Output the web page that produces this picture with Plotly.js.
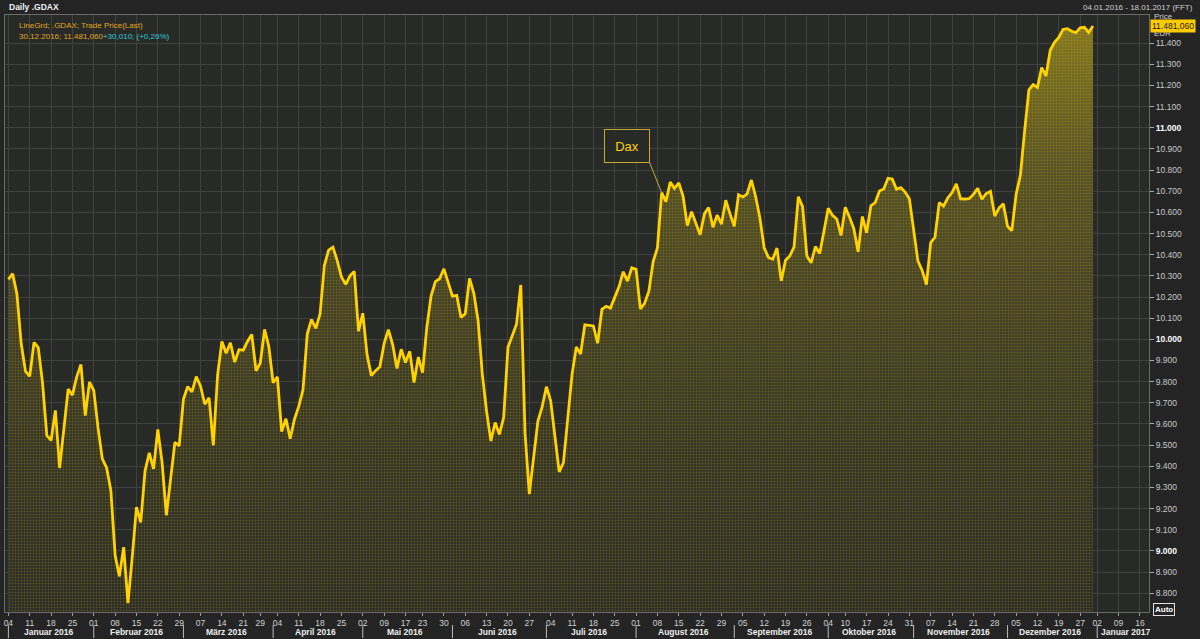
<!DOCTYPE html>
<html><head><meta charset="utf-8">
<script src="https://cdn.plot.ly/plotly-3.0.1.min.js"></script>
<style>html,body{margin:0;padding:0;background:#232423;}#chart{width:1200px;height:639px;}</style>
</head><body><div id="chart"></div>
<script>
// ---- data ----
const monthKeys = ['2016-01','2016-02','2016-03','2016-04','2016-05','2016-06','2016-07','2016-08','2016-09','2016-10','2016-11','2016-12'];
const tradingDays = [
 '04 05 06 07 08 11 12 13 14 15 18 19 20 21 22 25 26 27 28 29',
 '01 02 03 04 05 08 09 10 11 12 15 16 17 18 19 22 23 24 25 26 29',
 '01 02 03 04 07 08 09 10 11 14 15 16 17 18 21 22 23 24 29 30 31',
 '01 04 05 06 07 08 11 12 13 14 15 18 19 20 21 22 25 26 27 28 29',
 '02 03 04 05 06 09 10 11 12 13 17 18 19 20 23 24 25 26 27 30 31',
 '01 02 03 06 07 08 09 10 13 14 15 16 17 20 21 22 23 24 27 28 29 30',
 '01 04 05 06 07 08 11 12 13 14 15 18 19 20 21 22 25 26 27 28 29',
 '01 02 03 04 05 08 09 10 11 12 15 16 17 18 19 22 23 24 25 26 29 30 31',
 '01 02 05 06 07 08 09 12 13 14 15 16 19 20 21 22 23 26 27 28 29 30',
 '04 05 06 07 10 11 12 13 14 17 18 19 20 21 24 25 26 27 28 31',
 '01 02 03 04 07 08 09 10 11 14 15 16 17 18 21 22 23 24 25 28 29 30',
 '01 02 05 06 07 08 09 12 13 14 15 16 19 20 21 22 23 27 28 29 30'
];
const closeJan = [10283.44,10310.10,10214.02,9979.85,9849.34,9825.07,9985.43,9960.96,9794.20,9545.27,9521.85,9664.21,9391.64,9574.16,9764.88,9736.15,9822.75,9880.82,9639.59,9798.11];
const closeFeb = [9757.88,9581.04,9434.82,9393.36,9286.23,8979.36,8879.40,9017.29,8752.87,8967.51,9206.84,9135.11,9377.21,9463.64,9388.05,9573.59,9416.77,9167.80,9331.48,9513.30,9495.40];
const closeMar = [9717.16,9776.62,9751.92,9824.17,9778.93,9692.82,9723.09,9498.15,9831.13,9990.26,9933.85,9983.41,9892.20,9950.80,9948.64,9990.00,10022.93,9851.35,9887.94,10046.61,9965.51];
const closeApr = [9794.64,9822.08,9563.36,9624.51,9530.62,9622.26,9682.99,9761.47,10026.10,10093.65,10051.57,10120.31,10349.59,10421.29,10435.73,10373.49,10294.35,10259.59,10299.83,10321.15,10038.97];
const closeMay = [10123.27,9926.77,9828.25,9851.86,9869.95,9980.49,10045.44,9975.32,9862.12,9952.90,9890.19,9943.23,9795.89,9916.02,9842.29,10057.31,10205.20,10272.71,10286.31,10333.23,10262.74];
const closeJun = [10204.44,10208.00,10103.26,10121.08,10287.68,10217.03,10088.87,9834.62,9657.44,9519.20,9606.71,9550.47,9631.36,9962.02,10015.54,10071.06,10257.03,9557.16,9268.66,9447.28,9612.27,9680.09];
const closeJul = [9776.12,9709.09,9532.61,9373.26,9418.78,9629.66,9833.41,9964.07,9930.73,10068.30,10066.90,10063.13,9981.24,10142.01,10156.21,10147.46,10198.24,10247.76,10319.55,10274.93,10337.50];
const closeAug = [10330.52,10144.35,10170.21,10227.86,10367.21,10432.36,10692.90,10650.89,10742.84,10713.43,10739.21,10676.65,10537.67,10603.03,10544.36,10494.35,10592.88,10622.97,10529.59,10587.77,10544.44,10657.64,10592.69];
const closeSep = [10534.31,10683.82,10672.22,10687.14,10752.98,10675.29,10573.44,10431.98,10386.60,10378.40,10431.20,10276.17,10373.87,10393.71,10436.51,10674.18,10626.97,10393.86,10361.46,10438.34,10405.54,10511.02];
const closeOct = [10619.61,10585.78,10568.80,10490.86,10624.08,10577.16,10523.07,10414.07,10580.38,10503.57,10631.55,10645.68,10701.39,10710.73,10761.17,10757.31,10709.68,10717.09,10696.19,10665.01];
const closeNov = [10526.16,10370.93,10325.88,10259.13,10456.95,10482.32,10646.01,10630.12,10667.95,10693.69,10735.14,10663.87,10663.27,10664.56,10685.13,10713.39,10662.44,10689.26,10699.27,10582.67,10620.49,10640.30];
const closeDec = [10534.05,10513.35,10684.17,10775.32,10986.69,11179.42,11203.63,11190.21,11284.65,11244.84,11366.40,11404.01,11426.72,11464.74,11468.64,11456.10,11449.93,11472.17,11474.99,11451.05,11481.06];

const holidays = ['2016-03-25','2016-03-28','2016-05-16','2016-10-03','2016-12-26'];
const weekTicks = ['2016-01-04','2016-01-11','2016-01-18','2016-01-25','2016-02-01','2016-02-08','2016-02-15','2016-02-22','2016-02-29','2016-03-07','2016-03-14','2016-03-21','2016-03-29','2016-04-04','2016-04-11','2016-04-18','2016-04-25','2016-05-02','2016-05-09','2016-05-17','2016-05-23','2016-05-30','2016-06-06','2016-06-13','2016-06-20','2016-06-27','2016-07-04','2016-07-11','2016-07-18','2016-07-25','2016-08-01','2016-08-08','2016-08-15','2016-08-22','2016-08-29','2016-09-05','2016-09-12','2016-09-19','2016-09-26','2016-10-04','2016-10-10','2016-10-17','2016-10-24','2016-10-31','2016-11-07','2016-11-14','2016-11-21','2016-11-28','2016-12-05','2016-12-12','2016-12-19','2016-12-27','2017-01-02','2017-01-09','2017-01-16'];
const monthLabels = ['Januar 2016','Februar 2016','März 2016','April 2016','Mai 2016','Juni 2016','Juli 2016','August 2016','September 2016','Oktober 2016','November 2016','Dezember 2016','Januar 2017'];
const monthStarts = ['2016-01-04','2016-02-01','2016-03-01','2016-04-01','2016-05-02','2016-06-01','2016-07-01','2016-08-01','2016-09-01','2016-10-04','2016-11-01','2016-12-01','2017-01-02'];
const yTicks = [8800,8900,9000,9100,9200,9300,9400,9500,9600,9700,9800,9900,10000,10100,10200,10300,10400,10500,10600,10700,10800,10900,11000,11100,11200,11300,11400];
const seriesName = 'Dax';

// ---- build ----
const dates = [];
tradingDays.forEach((s, i) => s.split(' ').forEach(d => dates.push(monthKeys[i] + '-' + d)));
const closes = [].concat(closeJan, closeFeb, closeMar, closeApr, closeMay, closeJun, closeJul, closeAug, closeSep, closeOct, closeNov, closeDec);

function de(v, dec) {
  const s = Math.abs(v).toFixed(dec);
  let [i, f] = s.split('.');
  i = i.replace(/\B(?=(\d{3})+(?!\d))/g, '.');
  return (v < 0 ? '-' : '') + (f ? i + ',' + f : i);
}

const n = closes.length;
const last = closes[n - 1], prev = closes[n - 2];
const chg = last - prev, pct = chg / prev * 100;
const lastDate = dates[n - 1].split('-').reverse().join('.');

const FONT = 'Liberation Sans, Arial, sans-serif';
const YEL = '#ffd200';

const gradTrace = {
  x: dates, y: closes, type: 'scatter', mode: 'lines', line: {width: 0},
  fill: 'tozeroy',
  fillgradient: {type: 'vertical', start: 8700, stop: 11500,
    colorscale: [[0, 'rgb(40,42,38)'], [0.3, 'rgb(52,52,38)'], [0.55, 'rgb(66,64,38)'], [0.75, 'rgb(84,80,38)'], [1, 'rgb(130,118,32)']]},
  hoverinfo: 'skip'
};
const lineTrace = {
  x: dates, y: closes, type: 'scatter', mode: 'lines', name: seriesName,
  line: {color: YEL, width: 2.8},
  fill: 'tozeroy', fillcolor: 'rgba(0,0,0,0)',
  fillpattern: {shape: '.', size: 3, solidity: 0.3, fgcolor: 'rgba(220,190,30,0.28)', bgcolor: 'rgba(0,0,0,0)'}
};

const X0 = 5, X1 = 1149, Y0 = 15, Y1 = 612;
const px = p => (p - X0) / (X1 - X0);
const py = p => (Y1 - p) / (Y1 - Y0);

function midDate(m) {
  const idx = dates.map((d, i) => d.startsWith(m) ? i : -1).filter(i => i >= 0);
  const mid = (idx[0] + idx[idx.length - 1]) / 2;
  return Number.isInteger(mid) ? dates[mid] : dates[Math.floor(mid)] + ' 12:00';
}

const annotations = [];
monthLabels.forEach((lab, i) => {
  if (i < monthKeys.length) {
    annotations.push({x: midDate(monthKeys[i]), xref: 'x', y: py(632), yref: 'paper', text: '<b>' + lab + '</b>', showarrow: false, font: {family: FONT, size: 8.5, color: '#ececec'}, xanchor: 'center', yanchor: 'middle'});
  } else {
    annotations.push({x: monthStarts[i], xref: 'x', y: py(632), yref: 'paper', xshift: 2, text: '<b>' + lab + '</b>', showarrow: false, font: {family: FONT, size: 8.5, color: '#ececec'}, xanchor: 'left', yanchor: 'middle'});
  }
});
annotations.push(
  {x: px(7), y: py(7), xref: 'paper', yref: 'paper', text: '<b>Daily .GDAX</b>', showarrow: false, xanchor: 'left', yanchor: 'middle', font: {family: FONT, size: 8.5, color: '#f0f0f0'}},
  {x: px(1195), y: py(7), xref: 'paper', yref: 'paper', text: '04.01.2016 - 18.01.2017 (FFT)', showarrow: false, xanchor: 'right', yanchor: 'middle', font: {family: FONT, size: 8, color: '#d0d0d0'}},
  {x: px(17), y: py(25), xref: 'paper', yref: 'paper', text: 'LineGrd; .GDAX; Trade Price(Last)', showarrow: false, xanchor: 'left', yanchor: 'middle', font: {family: FONT, size: 8, color: '#e0a818'}},
  {x: px(17), y: py(37), xref: 'paper', yref: 'paper', text: '<span style="color:#e0a818">' + lastDate + '; ' + de(last, 3) + '</span><span style="color:#30c8d4">' + (chg >= 0 ? '+' : '') + de(chg, 3) + '; (' + (pct >= 0 ? '+' : '') + de(pct, 2) + '%)</span>', showarrow: false, xanchor: 'left', yanchor: 'middle', font: {family: FONT, size: 8}},
  {x: px(1152), y: py(17), xref: 'paper', yref: 'paper', text: 'Price', showarrow: false, xanchor: 'left', yanchor: 'middle', font: {family: FONT, size: 8, color: '#d0d0d0'}},
  {x: px(1152), y: py(33), xref: 'paper', yref: 'paper', text: 'EUR', showarrow: false, xanchor: 'left', yanchor: 'middle', font: {family: FONT, size: 8, color: '#d0d0d0'}},
  {x: px(1150), y: last, xref: 'paper', yref: 'y', text: de(last, 3), showarrow: false, xanchor: 'left', yanchor: 'middle', bgcolor: '#ffcc00', borderpad: 1, font: {family: FONT, size: 8.5, color: '#1a1a1a'}},
  {x: px(1164), y: py(609), xref: 'paper', yref: 'paper', text: '<b>Auto</b>', showarrow: false, xanchor: 'center', yanchor: 'middle', bordercolor: '#e0e0e0', borderwidth: 1, borderpad: 1, bgcolor: '#232423', font: {family: FONT, size: 8, color: '#ffffff'}},
  {x: '2016-08-09', y: closes[dates.indexOf('2016-08-09')], xref: 'x', yref: 'y', text: seriesName, showarrow: true, arrowhead: 0, arrowwidth: 1, arrowcolor: '#c8a830', standoff: 0, ax: -12, ay: -30, xanchor: 'right', yanchor: 'bottom', bordercolor: '#c8a830', borderwidth: 1, borderpad: 2, width: 40, height: 28, bgcolor: '#282a28', font: {family: FONT, size: 13, color: YEL}}
);

const shapes = monthStarts.map(d => ({type: 'line', xref: 'x', yref: 'paper', x0: d, x1: d, y0: py(625), y1: py(638), line: {color: '#bdbdbd', width: 1}}));

const layout = {
  width: 1200, height: 639,
  margin: {l: X0, r: 1200 - X1, t: Y0, b: 639 - Y1, pad: 0},
  paper_bgcolor: '#232423', plot_bgcolor: '#282a28',
  showlegend: false,
  font: {family: FONT, size: 9, color: '#c8c8c8'},
  xaxis: {
    type: 'date', range: ['2016-01-01 05:00', '2017-01-18 03:00'],
    rangebreaks: [{bounds: ['sat', 'mon']}, {values: holidays}],
    tickmode: 'array', tickvals: weekTicks, ticktext: weekTicks.map(d => d.slice(8, 10)),
    ticks: 'outside', ticklen: 3, tickcolor: '#9a9a9a',
    showgrid: true, gridcolor: '#404240', gridwidth: 1,
    showline: true, linecolor: '#6a6a6a', mirror: true, zeroline: false,
    tickfont: {family: FONT, size: 8.5, color: '#d0d0d0'}
  },
  yaxis: {
    side: 'right', range: [8711, 11533],
    tickmode: 'array', tickvals: yTicks,
    ticktext: yTicks.map(v => v % 1000 === 0 ? '<b><span style="color:#ffffff">' + de(v, 0) + '</span></b>' : de(v, 0)),
    ticks: 'outside', ticklen: 4, tickcolor: '#a8a8a8',
    showgrid: true, gridcolor: '#404240', gridwidth: 1,
    showline: true, linecolor: '#6a6a6a', mirror: true, zeroline: false,
    tickfont: {family: FONT, size: 8.5, color: '#c8c8c8'}
  },
  annotations: annotations,
  shapes: shapes
};

Plotly.newPlot('chart', [gradTrace, lineTrace], layout, {displayModeBar: false, staticPlot: true});
</script>
</body></html>
